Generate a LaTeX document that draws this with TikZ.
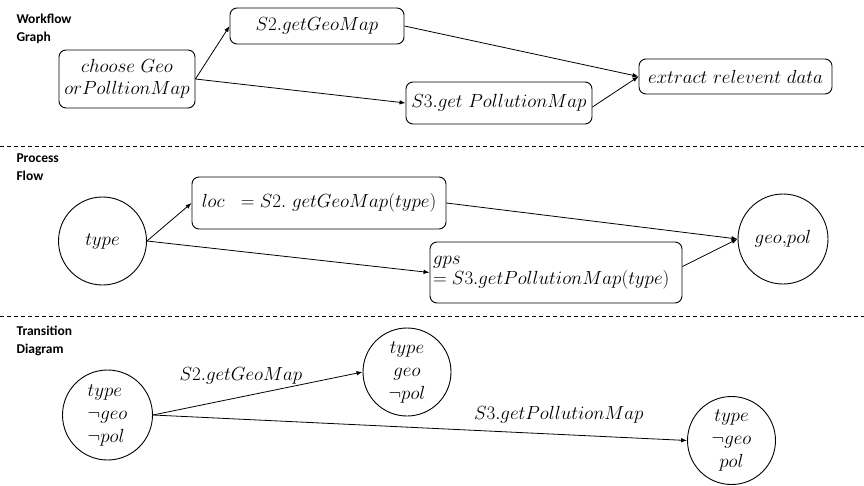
\RequirePackage{fix-cm}
\documentclass[tikz,border=0pt]{standalone}
\usepackage{fontspec}
\newfontfamily\labfont{Carlito}
\usetikzlibrary{arrows.meta}
\begin{document}
\begin{tikzpicture}[x=1pt,y=-1pt,
  every node/.style={font=\fontsize{19}{22}\selectfont},
  rbox/.style={draw,rounded corners=7pt,line width=0.9pt,inner sep=2pt},
  cnode/.style={draw,circle,line width=0.9pt,inner sep=0pt,align=center,font=\fontsize{19}{23}\selectfont},
  seclab/.style={anchor=west,align=left,font=\labfont\bfseries\fontsize{13.5}{18}\selectfont},
  arr/.style={line width=0.8pt,-{Latex[length=6pt,width=4.5pt]}},
  sep/.style={line width=0.7pt,dash pattern=on 4pt off 3pt}]
\useasboundingbox (0,0) rectangle (864,485);

% section separators
\coordinate (s1l) at (0,146); \coordinate (s1r) at (864,146);
\coordinate (s2l) at (0,316); \coordinate (s2r) at (864,316);
\draw[sep] (s1l) -- (s1r);
\draw[sep] (s2l) -- (s2r);

% section labels
\node[seclab] (lab1) at (13,29) {Workflow\\Graph};
\node[seclab] (lab2) at (13,167) {Process\\Flow};
\node[seclab] (lab3) at (13,340.5) {Transition\\Diagram};

% workflow graph
\node[rbox,minimum width=136pt,minimum height=58pt,align=center] (choose) at (127,79)
  {$choose\ Geo$\\$orPolltionMap$};
\node[rbox,minimum width=174pt,minimum height=36pt] (s2) at (317,26) {$S2.getGeoMap$};
\node[rbox,minimum width=186pt,minimum height=42pt] (s3) at (499,103) {$S3.get\ PollutionMap$};
\node[rbox,minimum width=193pt,minimum height=35pt] (ext) at (735.5,76.5) {$extract\ relevent\ data$};
\draw[arr] (choose.east) -- (s2.west);
\draw[arr] (choose.east) -- (s3.west);
\draw[arr] (s2.east) -- (ext.west);
\draw[arr] ([yshift=-4pt]s3.east) -- (ext.west);

% process flow
\node[cnode,minimum size=88pt] (type) at (102.5,241) {$type$};
\node[rbox,minimum width=254pt,minimum height=52pt] (loc) at (319,203) {$loc\;\ = S2.\ getGeoMap(type)$};
\node[rbox,minimum width=252pt,minimum height=61pt,align=left,text width=246pt,font=\fontsize{19}{20}\selectfont] (gps) at (556,272.5)
  {$gps$\\$= S3.getPollutionMap(type)$};
\node[cnode,minimum size=90pt] (geopol) at (783,239) {$geo{,}pol$};
\draw[arr] (type.east) -- (loc.west);
\draw[arr] (type.east) -- (gps.west);
\draw[arr] (loc.east) -- (geopol.west);
\draw[arr] ([yshift=6pt]gps.east) -- (geopol.west);

% transition diagram
\node[cnode,minimum size=90pt,align=left] (t1) at (107.5,415) {$type$\\$\neg geo$\\$\neg pol$};
\node[cnode,minimum size=88pt] (t2) at (407,372) {$type$\\$geo$\\$\neg pol$};
\node[cnode,minimum size=88pt] (t3) at (731.5,440.5) {$type$\\$\neg geo$\\$pol$};
\draw[arr] (t1.east) -- node[pos=0.42,above=9pt] (l12) {$S2.getGeoMap$} (t2.west);
\draw[arr] (t1.east) -- node[pos=0.76,above=7pt] (l13) {$S3.getPollutionMap$} (t3.west);
\end{tikzpicture}
\end{document}
